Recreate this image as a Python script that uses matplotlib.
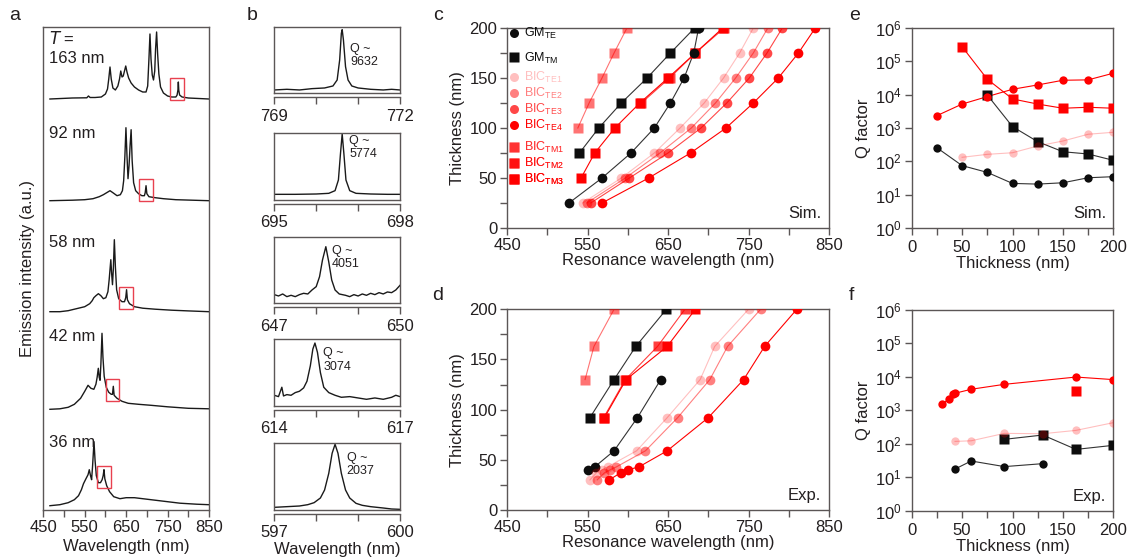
import numpy as np
import matplotlib.pyplot as plt
from matplotlib.lines import Line2D
from matplotlib.patches import Rectangle
from matplotlib.ticker import FixedLocator, MultipleLocator, NullLocator

plt.rcParams['font.family'] = ['Liberation Sans', 'DejaVu Sans']
plt.rcParams['mathtext.default'] = 'regular'

# ---------------- panel a: emission spectra (nm, a.u.) ----------------
a_labels = ['163 nm', '92 nm', '58 nm', '42 nm', '36 nm']
wl_163 = [466, 520, 552, 555, 559, 563, 575, 590, 600, 605, 608, 611, 614, 618, 624, 630, 634, 637, 640,
          643, 646, 649, 652, 656, 662, 670, 680, 690, 698, 702, 705, 707.5, 710, 713, 716, 719, 721,
          723.5, 726, 729, 733, 740, 750, 760, 770, 773, 775, 776, 777, 779, 785, 800, 850]
int_163 = [0, 1, 1.2, 1.2, 3, 1.5, 1.5, 2, 5, 10, 20, 32, 20, 11, 9, 13, 20, 28, 22,
           23, 28, 33, 27, 21, 16, 12, 9, 7, 7, 13, 40, 65, 40, 24, 19, 28, 50,
           67, 45, 25, 12, 6, 3, 2, 2, 4, 9, 17, 9, 4, 2, 1, 0]
wl_92 = [466, 520, 550, 570, 585, 595, 603, 611, 618, 628, 636, 641, 644, 647, 649.5, 652, 654.5, 657,
         659.5, 662, 664.5, 668, 673, 680, 688, 694, 696, 698, 700, 705, 720, 740, 770, 810, 850]
int_92 = [0, 0.5, 1, 2, 4, 6, 8, 10, 8, 5, 6, 10, 20, 45, 73, 45, 22, 35,
          55, 71, 40, 18, 10, 7, 5, 5, 8, 15, 7, 4, 3, 2, 1, 0.5, 0]
wl_58 = [466, 490, 510, 530, 550, 562, 568, 572, 577, 583, 589, 595, 601, 606, 609, 613, 615, 617, 619,
         621.5, 624, 627, 632, 640, 646, 649, 651, 653, 658, 670, 690, 720, 760, 800, 850]
int_58 = [0, 0, 1, 3, 5, 8, 11, 14, 16, 18, 16, 13, 14, 20, 32, 52, 38, 27, 42,
          72, 45, 22, 13, 10, 10, 14, 22, 12, 8, 5, 3.5, 2.5, 1.5, 0.8, 0]
wl_42 = [466, 490, 510, 525, 540, 550, 558, 565, 572, 577, 580, 582.8, 585, 587, 589, 591.7, 594, 597,
         602, 608, 614, 617, 619, 621, 628, 640, 655, 680, 710, 750, 800, 850]
int_42 = [0, 0.5, 2, 5, 11, 18, 24, 21, 20, 25, 32, 41, 32, 29, 45, 76, 52, 33,
          22, 17, 15, 15, 23, 14, 11, 8, 6, 5, 4, 2.5, 1, 0.5]
wl_36 = [466, 490, 510, 525, 535, 542, 547, 553, 558, 561, 564, 566.6, 569, 572.4, 575, 578, 583, 588,
         592, 594.5, 596.5, 598.5, 603, 610, 620, 635, 650, 670, 690, 710, 740, 780, 820, 850]
int_36 = [0, 1, 3, 6, 10, 16, 22, 27, 31, 36, 30, 26, 40, 64, 45, 30, 23, 23,
          26, 30, 36, 27, 20, 14, 9, 7, 8, 8, 7, 6, 4.5, 2.5, 1.5, 1]
a_wl = [wl_163, wl_92, wl_58, wl_42, wl_36]
a_int = [int_163, int_92, int_58, int_42, int_36]
# BIC peak window (nm) marked by red boxes
bic_lo = [756, 682, 633.5, 600.6, 580.4]
bic_hi = [790, 716, 667, 633.5, 613.4]

# ---------------- panel b: zoomed BIC peaks ----------------
b_ranges = [(769, 772), (695, 698), (647, 650), (614, 617), (597, 600)]
b_Q = [9632, 5774, 4051, 3074, 2037]
wl_b1 = [769.0, 769.3, 769.6, 769.9, 770.2, 770.4, 770.5, 770.56, 770.6, 770.62, 770.65, 770.7, 770.76,
         770.85, 771.0, 771.3, 771.6, 771.8, 772.0]
int_b1 = [0.05, 0.06, 0.05, 0.07, 0.08, 0.11, 0.2, 0.5, 0.9, 0.955, 0.8, 0.4, 0.2,
          0.11, 0.08, 0.06, 0.05, 0.06, 0.05]
wl_b2 = [695.0, 695.5, 696.0, 696.3, 696.45, 696.53, 696.58, 696.62, 696.66, 696.71, 696.8, 696.95,
         697.3, 697.7, 698.0]
int_b2 = [0.085, 0.085, 0.09, 0.1, 0.14, 0.3, 0.7, 0.99, 0.7, 0.3, 0.14, 0.1, 0.09, 0.085, 0.085]
wl_b3 = [647.0, 647.1, 647.2, 647.3, 647.4, 647.5, 647.6, 647.7, 647.8, 647.9, 648.0, 648.08, 648.15,
         648.23, 648.3, 648.37, 648.45, 648.55, 648.7, 648.8, 648.9, 649.0, 649.1, 649.2, 649.3, 649.4,
         649.5, 649.6, 649.7, 649.8, 649.9, 650.0]
int_b3 = [0.13, 0.11, 0.14, 0.1, 0.12, 0.1, 0.13, 0.15, 0.14, 0.2, 0.25, 0.4, 0.65,
          0.85, 0.62, 0.35, 0.2, 0.14, 0.12, 0.1, 0.13, 0.11, 0.14, 0.12, 0.15, 0.13,
          0.16, 0.14, 0.17, 0.16, 0.2, 0.27]
wl_b4 = [614.0, 614.1, 614.18, 614.22, 614.3, 614.4, 614.5, 614.6, 614.7, 614.78, 614.86, 614.92,
         614.97, 615.03, 615.1, 615.18, 615.3, 615.45, 615.6, 615.8, 616.0, 616.2, 616.4, 616.6, 616.8,
         616.9, 617.0]
int_b4 = [0.16, 0.14, 0.28, 0.15, 0.17, 0.16, 0.2, 0.22, 0.27, 0.37, 0.6, 0.85,
          0.94, 0.8, 0.5, 0.28, 0.2, 0.16, 0.13, 0.14, 0.12, 0.1, 0.12, 0.1, 0.13, 0.16, 0.14]
wl_b5 = [597.0, 597.3, 597.6, 597.8, 597.95, 598.1, 598.2, 598.3, 598.38, 598.45, 598.52, 598.6, 598.7,
         598.8, 598.95, 599.1, 599.3, 599.6, 599.8, 600.0]
int_b5 = [0.04, 0.05, 0.06, 0.08, 0.11, 0.18, 0.3, 0.55, 0.85, 0.985, 0.85, 0.55, 0.3,
          0.18, 0.1, 0.07, 0.05, 0.03, 0.015, 0.01]
b_wl = [wl_b1, wl_b2, wl_b3, wl_b4, wl_b5]
b_int = [int_b1, int_b2, int_b3, int_b4, int_b5]

# ---------------- panel c: simulated resonance wavelength vs thickness ----------------
T_sim = [25, 50, 75, 100, 125, 150, 175, 200]
c_gm_te = [527, 568, 604, 633, 653, 670, 682, 688]
T_c_gm_tm = [75, 100, 125, 150, 175, 200]
c_gm_tm = [540, 564, 592, 624, 653, 683]
c_te1 = [544, 592, 633, 665, 695, 719, 739, 756]
c_te2 = [549, 597, 640, 679, 709, 734, 756, 774]
c_te3 = [554, 602, 650, 691, 723, 751, 773, 792]
c_te4 = [568, 626, 678, 722, 756, 787, 812, 833]
T_c_tm1 = [100, 125, 150, 175, 200]
c_tm1 = [538, 552, 568, 583, 599]
T_c_tm2 = [125, 150, 175, 200]
c_tm2 = [617, 652, 684, 720]
T_c_tm3 = [50, 75, 100, 125, 150, 175, 200]
c_tm3 = [542, 559, 584, 615, 650, 684, 718]

# ---------------- panel d: measured resonance wavelength vs thickness ----------------
T_d_gm_te = [40, 43, 59, 92, 130]
d_gm_te = [550, 559, 583, 612, 641]
T_d_gm_tm = [92, 130, 163, 200]
d_gm_tm = [553, 583, 610, 648]
T_d_tm1 = [130, 163, 200]
d_tm1 = [547, 558, 583]
T_d_tm2 = [92, 130, 163, 200]
d_tm2 = [570, 597, 637, 671]
T_d_tm3 = [92, 130, 163, 200]
d_tm3 = [571, 598, 649, 684]
T_d_te = [30, 37, 40, 43, 59, 92, 130, 163, 200]
d_te1 = [553, 561, 568, 575, 611, 649, 690, 708, 750]
d_te2 = [562, 571, 578, 586, 622, 662, 702, 724, 765]
d_te4 = [577, 591, 600, 614, 649, 700, 744, 770, 810]

# ---------------- panel e: simulated Q factor ----------------
e_gm_te = [257, 75, 47, 22, 21, 23, 32.5, 35]
T_e_gm_tm = [75, 100, 125, 150, 175, 200]
e_gm_tm = [9700, 1100, 390, 195, 167, 108]
T_e_50 = [50, 75, 100, 125, 150, 175, 200]
e_tm3 = [270000, 28800, 7400, 5200, 3900, 4170, 3900]
e_te4 = [2340, 5200, 8700, 14400, 19400, 26800, 27500, 43500]
e_te1 = [133, 163, 182, 290, 408, 650, 745]

# ---------------- panel f: measured Q factor ----------------
T_f_gm_te = [43, 59, 92, 130]
f_gm_te = [17.6, 30.6, 20.8, 25.5]
T_f_gm_tm = [92, 130, 163, 200]
f_gm_tm = [136, 183, 68, 90]
T_f_tm3 = [163]
f_tm3 = [3800]
T_f_te1 = [43, 59, 92, 130, 163, 200]
f_te1 = [118, 123, 205, 200, 252, 428]
T_f_te4 = [30, 37, 41, 43, 59, 92, 163, 200]
f_te4 = [1550, 2190, 3020, 3240, 4270, 6000, 9900, 8300]

# ---------------- styles ----------------
AX_C = '#5b5656'
TXT_C = '#231f20'
BLACK = '#0d0d0d'


def red(a):
    return (1.0, 0.0, 0.0, a)


COL = {'gm': BLACK, 'te1': red(0.25), 'te2': red(0.5), 'te3': red(0.72), 'te4': red(1.0),
       'tm1': red(0.55), 'tm2': red(0.75), 'tm3': red(1.0)}

W, H = 1133, 560
fig = plt.figure(figsize=(W / 100, H / 100), dpi=100)


def px_axes(l, t, r, b):
    return fig.add_axes([l / W, 1 - b / H, (r - l) / W, (b - t) / H])


def style(ax, size=12):
    for s in ax.spines.values():
        s.set_color(AX_C)
        s.set_linewidth(1)
    ax.tick_params(which='both', direction='out', color=AX_C, labelcolor=TXT_C,
                   labelsize=size, width=1, length=5, pad=2)


def series(ax, x, y, col, mk, ms, line=True):
    if line:
        lc = '#333333' if col == BLACK else col
        ax.plot(x, y, '-', color=lc, lw=0.8, zorder=2)
    ax.plot(x, y, ls='none', marker=mk, ms=ms, mfc=col, mec='none', zorder=3)


# ---- a ----
ax_a = px_axes(43.3, 26.7, 209, 510)
style(ax_a)
a_offset = [411, 309.3, 198.3, 100.7, 4.3]
a_label_y = [462, 376.7, 267.3, 173.3, 67.3]
box_bot = [-1, -0.3, 2.4, 8.6, 18]
for i in range(5):
    y = np.array(a_int[i]) + a_offset[i]
    ax_a.plot(a_wl[i], y, color='#1a1a1a', lw=1.0)
    ax_a.add_patch(Rectangle((bic_lo[i], a_offset[i] + box_bot[i]), bic_hi[i] - bic_lo[i], 22,
                             fill=False, ec='#e8414f', lw=1.0, zorder=4))
    lab = a_labels[i] if i else '$\\mathit{T}$ =\n' + a_labels[i]
    ax_a.text(463, a_label_y[i], lab, fontsize=12, color=TXT_C, va='center', linespacing=1.4)
ax_a.set_xlim(450, 850)
ax_a.set_ylim(0, 483.3)
ax_a.xaxis.set_major_locator(FixedLocator([450, 550, 650, 750, 850]))
ax_a.xaxis.set_minor_locator(FixedLocator([500, 600, 700, 800]))
ax_a.set_yticks([])
ax_a.set_xlabel('Wavelength (nm)', fontsize=12, color=TXT_C, labelpad=3)
ax_a.set_ylabel('Emission intensity (a.u.)', fontsize=12, color=TXT_C, labelpad=6)

# ---- b ----
b_tops = [26.7, 133.3, 236.7, 339, 443.3]
b_bots = [93.3, 200, 303.3, 406, 510]
q_pos = [(0.602, 0.755), (0.595, 0.975), (0.457, 0.875), (0.39, 0.876), (0.576, 0.874)]
for i in range(5):
    ax = px_axes(274.3, b_tops[i], 400, b_bots[i])
    style(ax)
    ax.plot(b_wl[i], b_int[i], color='#1a1a1a', lw=1.0)
    lo, hi = b_ranges[i]
    ax.set_xlim(lo, hi)
    ax.set_ylim(0, 1)
    ax.axhline(0, color=AX_C, lw=1, clip_on=False)
    ax.spines['bottom'].set_position(('outward', 3))
    ax.set_xticks([lo, lo + 1, lo + 2, hi])
    ax.set_xticklabels([str(lo), '', '', str(hi)])
    ax.tick_params(axis='x', pad=3)
    ax.set_yticks([])
    ax.text(q_pos[i][0], q_pos[i][1], 'Q ~\n%d' % b_Q[i], transform=ax.transAxes, fontsize=9,
            color=TXT_C, va='top', ha='left', linespacing=1.15)
    if i == 4:
        ax.set_xlabel('Wavelength (nm)', fontsize=12, color=TXT_C, labelpad=1)

# ---- c ----
ax_c = px_axes(507, 28, 829, 228)
style(ax_c)
series(ax_c, c_tm1, T_c_tm1, COL['tm1'], 's', 7)
series(ax_c, c_gm_tm, T_c_gm_tm, COL['gm'], 's', 7)
series(ax_c, c_tm2, T_c_tm2, COL['tm2'], 's', 7)
series(ax_c, c_tm3, T_c_tm3, COL['tm3'], 's', 7)
series(ax_c, c_gm_te, T_sim, COL['gm'], 'o', 7)
series(ax_c, c_te1, T_sim, COL['te1'], 'o', 7)
series(ax_c, c_te2, T_sim, COL['te2'], 'o', 7)
series(ax_c, c_te3, T_sim, COL['te3'], 'o', 7)
series(ax_c, c_te4, T_sim, COL['te4'], 'o', 7)

# ---- d ----
ax_d = px_axes(507, 309.3, 829, 510)
style(ax_d)
series(ax_d, d_tm1, T_d_tm1, COL['tm1'], 's', 7)
series(ax_d, d_gm_tm, T_d_gm_tm, COL['gm'], 's', 7)
series(ax_d, d_tm2, T_d_tm2, COL['tm2'], 's', 7)
series(ax_d, d_tm3, T_d_tm3, COL['tm3'], 's', 7)
series(ax_d, d_gm_te, T_d_gm_te, COL['gm'], 'o', 7)
series(ax_d, d_te1, T_d_te, COL['te1'], 'o', 7)
series(ax_d, d_te2, T_d_te, COL['te2'], 'o', 7)
series(ax_d, d_te4, T_d_te, COL['te4'], 'o', 7)

for ax, tag in ((ax_c, 'Sim.'), (ax_d, 'Exp.')):
    ax.set_xlim(450, 850)
    ax.set_ylim(0, 200)
    ax.xaxis.set_major_locator(FixedLocator([450, 550, 650, 750, 850]))
    ax.xaxis.set_minor_locator(FixedLocator([500, 600, 700, 800]))
    ax.yaxis.set_major_locator(MultipleLocator(50))
    ax.yaxis.set_minor_locator(MultipleLocator(25))
    ax.set_xlabel('Resonance wavelength (nm)', fontsize=12, color=TXT_C, labelpad=0)
    ax.set_ylabel('Thickness (nm)', fontsize=12, color=TXT_C, labelpad=3)
    ax.text(0.975, 0.035, tag, transform=ax.transAxes, ha='right', va='bottom', fontsize=12, color=TXT_C)

# legend of panel c, three groups
leg_groups = [
    ([('o', COL['gm'], 'GM$_{TE}$'), ('s', COL['gm'], 'GM$_{TM}$')], 1.01, 0.75),
    ([('o', COL['te1'], 'BIC$_{TE1}$'), ('o', COL['te2'], 'BIC$_{TE2}$'),
      ('o', COL['te3'], 'BIC$_{TE3}$'), ('o', COL['te4'], 'BIC$_{TE4}$')], 0.79, 0.08),
    ([('s', COL['tm1'], 'BIC$_{TM1}$'), ('s', COL['tm2'], 'BIC$_{TM2}$'),
      ('s', COL['tm3'], 'BIC$_{TM3}$')], 0.44, 0.08),
]
for items, ytop, sp in leg_groups:
    handles = [Line2D([], [], ls='none', marker=mk, ms=6.5, mfc=c, mec='none') for mk, c, _ in items]
    leg = ax_c.legend(handles, [lab for _, _, lab in items], loc='upper left',
                      bbox_to_anchor=(0.005, ytop), frameon=False, fontsize=9, handlelength=0.8,
                      handletextpad=0.4, labelspacing=sp, borderaxespad=0, borderpad=0)
    for t, (_, c, _) in zip(leg.get_texts(), items):
        t.set_color(c)
    ax_c.add_artist(leg)

# ---- e ----
ax_e = px_axes(911.7, 27.7, 1113.3, 228.3)
style(ax_e)
series(ax_e, T_sim, e_gm_te, COL['gm'], 'o', 6)
series(ax_e, T_e_gm_tm, e_gm_tm, COL['gm'], 's', 6.5)
series(ax_e, T_e_50, e_te1, COL['te1'], 'o', 6)
series(ax_e, T_sim, e_te4, COL['te4'], 'o', 6)
series(ax_e, T_e_50, e_tm3, COL['tm3'], 's', 6.5)

# ---- f ----
ax_f = px_axes(911.7, 310, 1113.3, 510.7)
style(ax_f)
series(ax_f, T_f_gm_te, f_gm_te, COL['gm'], 'o', 6)
series(ax_f, T_f_gm_tm, f_gm_tm, COL['gm'], 's', 6.5)
series(ax_f, T_f_te1, f_te1, COL['te1'], 'o', 6)
series(ax_f, T_f_te4, f_te4, COL['te4'], 'o', 6)
series(ax_f, T_f_tm3, f_tm3, COL['tm3'], 's', 6.5, line=False)

for ax, tag in ((ax_e, 'Sim.'), (ax_f, 'Exp.')):
    ax.set_yscale('log')
    ax.set_xlim(0, 200)
    ax.set_ylim(1, 1e6)
    ax.yaxis.set_major_locator(FixedLocator([10.0 ** k for k in range(7)]))
    ax.set_yticklabels(['$10^{%d}$' % k for k in range(7)])
    ax.yaxis.set_minor_locator(NullLocator())
    ax.xaxis.set_major_locator(MultipleLocator(50))
    ax.xaxis.set_minor_locator(MultipleLocator(25))
    ax.tick_params(axis='x', pad=3.5)
    ax.set_xlabel('Thickness (nm)', fontsize=12, color=TXT_C, labelpad=1)
    ax.set_ylabel('Q factor', fontsize=12, color=TXT_C, labelpad=3)
    ax.text(0.965, 0.035, tag, transform=ax.transAxes, ha='right', va='bottom', fontsize=12, color=TXT_C)

# panel letters
for lt, (x, y) in zip('abcdef', [(15, 15), (252, 15), (438, 15), (438, 295), (855, 15), (851, 295)]):
    fig.text(x / W, 1 - y / H, lt, fontsize=14, color=TXT_C, ha='center', va='center')

fig.savefig('out.png', dpi=100)
